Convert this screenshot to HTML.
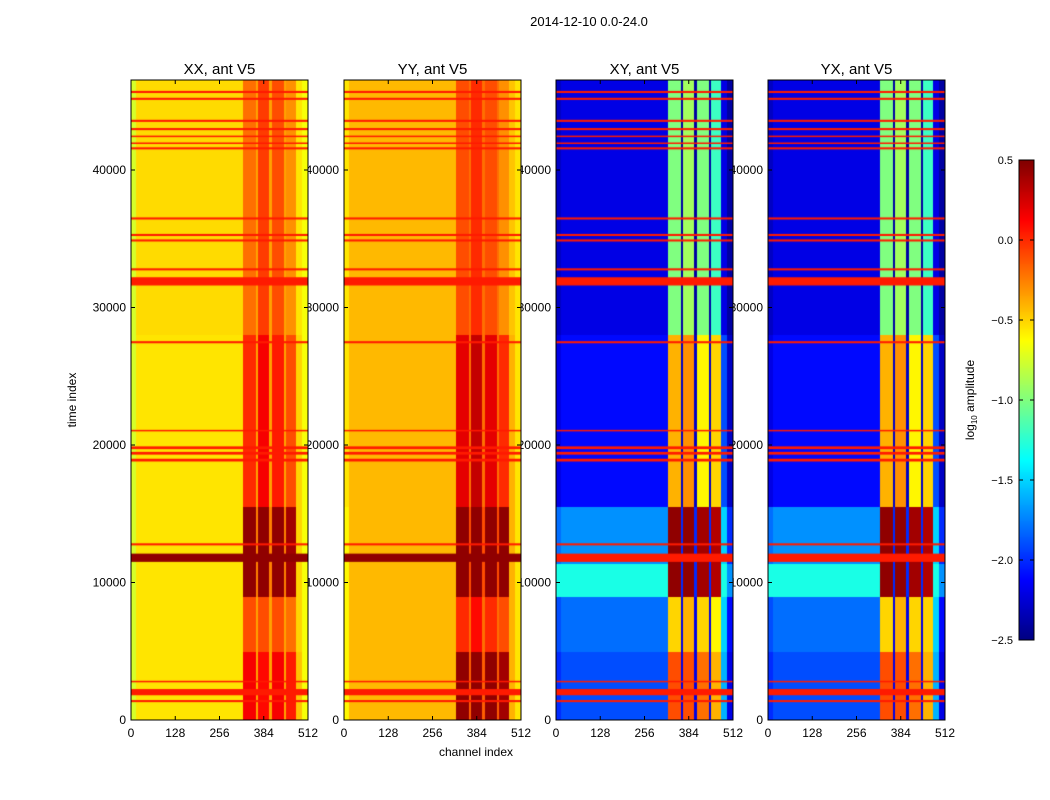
<!DOCTYPE html>
<html><head><meta charset="utf-8">
<style>
body{margin:0;background:#fff;font-family:"Liberation Sans",sans-serif;}
#wrap{position:relative;width:1050px;height:800px;overflow:hidden;background:#fff;}
canvas,svg{position:absolute;left:0;top:0;}
</style></head>
<body>
<div id="wrap">
<svg id="under" width="1050" height="800"></svg>
<canvas id="cv" width="1050" height="800"></canvas>
<svg id="sv" width="1050" height="800"></svg>
</div>
<script>
// ---- data ----
const panelTitles = ["XX, ant V5","YY, ant V5","XY, ant V5","YX, ant V5"];
const timeEdges = [0,5000,9000,11400,15500,28000,46500];
const chanEdges = [0,16,324,362,368,402,408,443,449,480,496,512];
const xxValues = [
 [-0.75,-0.55,0.15,-0.35,0.1,-0.35,0.15,-0.35,0.05,-0.45,-0.65],
 [-0.75,-0.55,-0.1,-0.35,-0.1,-0.35,-0.1,-0.35,-0.2,-0.5,-0.65],
 [-0.75,-0.55,0.45,-0.25,0.45,-0.25,0.45,-0.25,0.4,-0.5,-0.65],
 [-0.75,-0.55,0.45,-0.25,0.45,-0.25,0.45,-0.25,0.4,-0.5,-0.65],
 [-0.75,-0.55,0.0,-0.35,0.15,-0.35,0.05,-0.35,-0.1,-0.5,-0.65],
 [-0.75,-0.52,-0.2,-0.35,-0.05,-0.35,-0.1,-0.35,-0.3,-0.55,-0.65]];
const yyValues = [
 [-0.6,-0.42,0.45,-0.15,0.45,-0.15,0.45,-0.15,0.4,-0.4,-0.55],
 [-0.6,-0.42,0.0,-0.2,0.1,-0.2,0.0,-0.2,-0.1,-0.4,-0.55],
 [-0.6,-0.42,0.45,-0.1,0.45,-0.1,0.45,-0.1,0.45,-0.4,-0.55],
 [-0.6,-0.42,0.45,-0.1,0.45,-0.1,0.45,-0.1,0.45,-0.4,-0.55],
 [-0.55,-0.42,0.2,-0.2,0.3,-0.2,0.2,-0.2,0.0,-0.4,-0.55],
 [-0.55,-0.42,-0.1,-0.2,0.0,-0.2,-0.1,-0.2,-0.3,-0.45,-0.55]];
const xyValues = [
 [-2.0,-1.9,-0.1,-2.2,-0.1,-2.2,-0.2,-2.2,-0.4,-1.6,-2.2],
 [-1.9,-1.8,-0.5,-2.2,-0.4,-2.2,-0.5,-2.2,-0.6,-1.5,-2.1],
 [-1.3,-1.3,0.45,-2.0,0.45,-2.0,0.4,-2.0,0.35,-1.3,-1.7],
 [-1.8,-1.7,0.45,-2.0,0.45,-2.0,0.4,-2.0,0.35,-1.5,-2.0],
 [-2.2,-2.1,-0.4,-2.3,-0.3,-2.3,-0.6,-2.3,-0.5,-1.9,-2.3],
 [-2.3,-2.2,-1.0,-2.4,-0.9,-2.4,-1.0,-2.4,-1.2,-2.2,-2.4]];
const yxValues = [
 [-2.0,-1.9,-0.1,-2.2,-0.1,-2.2,-0.2,-2.2,-0.4,-1.6,-2.2],
 [-1.9,-1.8,-0.5,-2.2,-0.4,-2.2,-0.5,-2.2,-0.5,-1.5,-2.1],
 [-1.3,-1.3,0.45,-2.0,0.45,-2.0,0.4,-2.0,0.35,-1.3,-1.7],
 [-1.8,-1.7,0.45,-2.0,0.45,-2.0,0.4,-2.0,0.35,-1.5,-2.0],
 [-2.2,-2.1,-0.4,-2.3,-0.3,-2.3,-0.6,-2.3,-0.5,-1.9,-2.3],
 [-2.3,-2.2,-1.0,-2.4,-0.9,-2.4,-1.0,-2.4,-1.2,-2.2,-2.4]];
const lineStarts = [45600,45100,43500,42900,42400,41900,41500,36400,35200,34800,32700,31600,27400,21000,19700,19300,18800,12700,11500,2750,1800,1300];
const lineEnds   = [45750,45250,43650,43050,42500,42000,41650,36550,35350,34950,32850,32200,27550,21100,19900,19500,19000,12850,12100,2850,2250,1450];
const lineValues = [0.05,0.05,0.05,0.05,0.05,0.05,0.05,0.05,0.05,0.05,0.05,0.05,0.05,0.05,0.05,0.05,0.05,0.05,0.05,0.05,0.05,0.05];
const thickBandValues = [0.45,0.45,0.05,0.05];
const yTicks = [0,10000,20000,30000,40000];
const xTicks = [0,128,256,384,512];
const cbTicks = [0.5,0.0,-0.5,-1.0,-1.5,-2.0,-2.5];
// ---- layout ----
const panelLeft=[131,344,556,768], panelW=177, plotTop=80, plotBottom=720;
const tMax=46545, vMin=-2.5, vMax=0.5;
function xScale(p,ch){return panelLeft[p]+ch/512*panelW;}
function yScale(t){return plotBottom-(t/tMax)*(plotBottom-plotTop);}
function jet(v){
  let f=(v-vMin)/(vMax-vMin); f=Math.max(0,Math.min(1,f));
  const c=x=>Math.round(255*Math.max(0,Math.min(1,x)));
  return `rgb(${c(1.5-Math.abs(4*f-3))},${c(1.5-Math.abs(4*f-2))},${c(1.5-Math.abs(4*f-1))})`;
}
const ctx=document.getElementById('cv').getContext('2d');
const mats=[xxValues,yyValues,xyValues,yxValues];
for(let p=0;p<4;p++){
  const m=mats[p];
  for(let s=0;s<timeEdges.length-1;s++){
    for(let b=0;b<chanEdges.length-1;b++){
      ctx.fillStyle=jet(m[s][b]);
      const x0=xScale(p,chanEdges[b]),x1=xScale(p,chanEdges[b+1]);
      const y0=yScale(Math.min(timeEdges[s+1],tMax)),y1=yScale(timeEdges[s]);
      ctx.fillRect(Math.floor(x0),Math.floor(y0),Math.ceil(x1)-Math.floor(x0),Math.ceil(y1)-Math.floor(y0));
    }
  }
  for(let i=0;i<lineStarts.length;i++){
    const v = (lineStarts[i]===11500)?thickBandValues[p]:lineValues[i];
    ctx.fillStyle=jet(v);
    const y0=yScale(lineEnds[i]),y1=yScale(lineStarts[i]);
    ctx.fillRect(panelLeft[p],y0,panelW,Math.max(1.5,y1-y0));
  }
}
const cbX=1019,cbW=15,cbTop=160,cbBot=640;
function cbScale(v){return cbBot-(v-vMin)/(vMax-vMin)*(cbBot-cbTop);}
for(let y=cbTop;y<cbBot;y++){
  ctx.fillStyle=jet(vMin+(cbBot-y)/(cbBot-cbTop)*(vMax-vMin));
  ctx.fillRect(cbX,y,cbW,1);
}
const NS='http://www.w3.org/2000/svg';
const sv=document.getElementById('sv'), under=document.getElementById('under');
function mk(tag,attrs,txt,parent){const e=document.createElementNS(NS,tag);for(const k in attrs)e.setAttribute(k,attrs[k]);if(txt!==undefined)e.textContent=txt;(parent||sv).appendChild(e);return e;}
let e=mk('text',{x:589,y:26,'font-size':13,'text-anchor':'middle','font-family':'Liberation Sans'},'2014-12-10 0.0-24.0');


for(let p=0;p<4;p++){
  e=mk('rect',{x:panelLeft[p],y:plotTop,width:panelW,height:plotBottom-plotTop,fill:'none',stroke:'#000','stroke-width':1});
  
  
  e=mk('text',{x:panelLeft[p]+panelW/2,y:74,'font-size':15,'text-anchor':'middle','font-family':'Liberation Sans'},panelTitles[p]);
  
  
  for(const t of yTicks){
    const y=yScale(t);
    e=mk('text',{x:panelLeft[p]-5,y:y+4,'font-size':12,'text-anchor':'end','font-family':'Liberation Sans'},String(t),under);
    
    
    mk('line',{x1:panelLeft[p],x2:panelLeft[p]+4,y1:y,y2:y,stroke:'#000'});
    mk('line',{x1:panelLeft[p]+panelW,x2:panelLeft[p]+panelW-4,y1:y,y2:y,stroke:'#000'});
  }
  for(const c of xTicks){
    const x=xScale(p,c);
    e=mk('text',{x:x,y:737,'font-size':12,'text-anchor':'middle','font-family':'Liberation Sans'},String(c));
    
    
    mk('line',{x1:x,x2:x,y1:plotBottom,y2:plotBottom-4,stroke:'#000'});
    mk('line',{x1:x,x2:x,y1:plotTop,y2:plotTop+4,stroke:'#000'});
  }
}
e=mk('text',{x:476,y:756,'font-size':12,'text-anchor':'middle','font-family':'Liberation Sans'},'channel index');


e=mk('text',{x:76,y:400,'font-size':12,'text-anchor':'middle','font-family':'Liberation Sans',transform:'rotate(-90 76 400)'},'time index');


e=mk('rect',{x:cbX,y:cbTop,width:cbW,height:cbBot-cbTop,fill:'none',stroke:'#000'});


for(const v of cbTicks){
  const y=cbScale(v);
  e=mk('text',{x:1013,y:y+4,'font-size':11,'text-anchor':'end','font-family':'Liberation Sans'},(v<0?'\u2212':'')+Math.abs(v).toFixed(1));
  
  
  mk('line',{x1:cbX,x2:cbX+4,y1:y,y2:y,stroke:'#000'});
  mk('line',{x1:cbX+cbW-4,x2:cbX+cbW,y1:y,y2:y,stroke:'#000'});
}
e=mk('text',{x:974,y:400,'font-size':12,'text-anchor':'middle','font-family':'Liberation Sans',transform:'rotate(-90 974 400)'});


e.innerHTML='log<tspan font-size="8" dy="3">10</tspan><tspan dy="-3"> amplitude</tspan>';
</script>
</body></html>
